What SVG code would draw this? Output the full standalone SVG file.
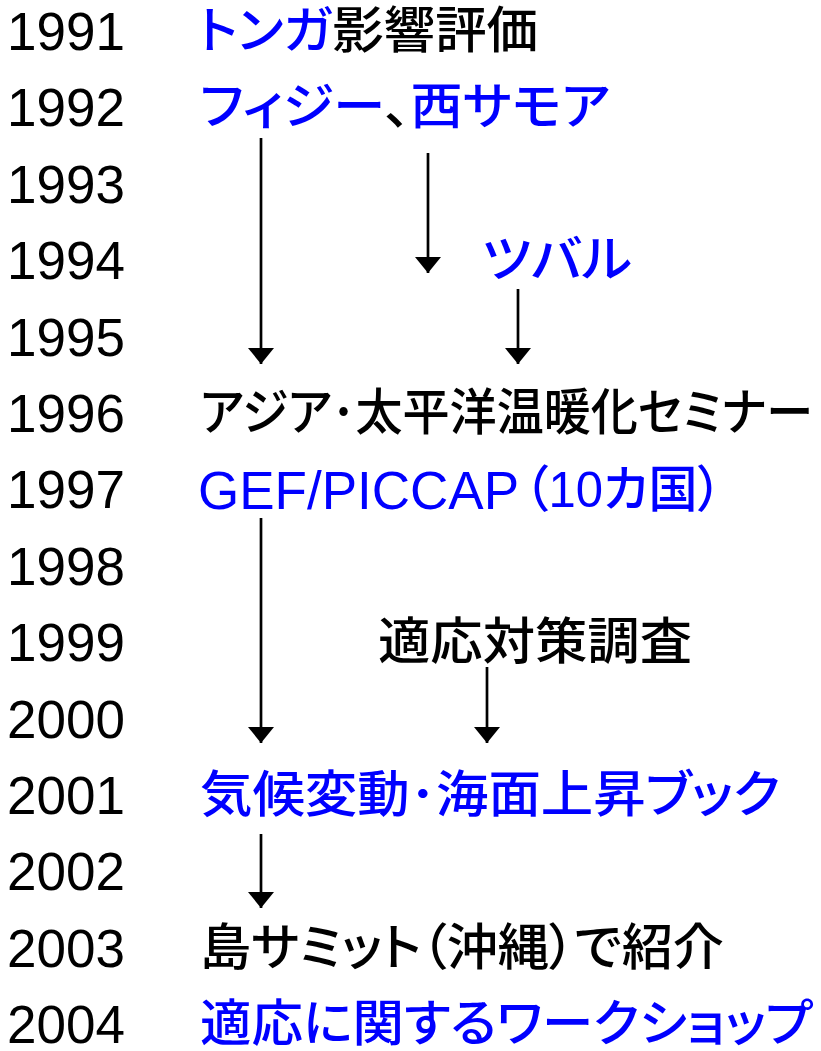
<svg xmlns="http://www.w3.org/2000/svg" width="821" height="1051" viewBox="0 0 821 1051">
<style>
.yr{font-family:"Liberation Sans",Arial,sans-serif;font-size:53px;fill:#000}
.t{font-family:"Liberation Sans","Noto Sans CJK JP",sans-serif;font-size:50px;font-weight:500;fill:#000;font-feature-settings:"palt"}
.lat{font-family:"Liberation Sans",Arial,sans-serif;font-size:53px;fill:#0000ff}
.b{fill:#0000ff}
.k{fill:#000}
.ln{stroke:#000;stroke-width:2.7;fill:none}
</style>
<defs>
<marker id="ah" markerWidth="16" markerHeight="26" refX="16" refY="13" orient="auto" markerUnits="userSpaceOnUse">
<path d="M0,0 L16,13 L0,26 Z" fill="#000"/>
</marker>
</defs>
<rect width="821" height="1051" fill="#fff"/>
<g id="years">
<text class="yr" x="7" y="50">1991</text>
<text class="yr" x="7" y="126">1992</text>
<text class="yr" x="7" y="203">1993</text>
<text class="yr" x="7" y="279">1994</text>
<text class="yr" x="7" y="356">1995</text>
<text class="yr" x="7" y="432">1996</text>
<text class="yr" x="7" y="508">1997</text>
<text class="yr" x="7" y="585">1998</text>
<text class="yr" x="7" y="661">1999</text>
<text class="yr" x="7" y="738">2000</text>
<text class="yr" x="7" y="814">2001</text>
<text class="yr" x="7" y="890">2002</text>
<text class="yr" x="7" y="967">2003</text>
<text class="yr" x="7" y="1043">2004</text>
</g>
<g id="n1991"><text class="t" x="198" y="48" textLength="340" lengthAdjust="spacingAndGlyphs"><tspan class="b">トンガ</tspan><tspan class="k">影響評価</tspan></text></g>
<g id="n1992"><text class="t" x="200" y="124" textLength="410" lengthAdjust="spacingAndGlyphs"><tspan class="b">フィジー</tspan><tspan class="k">、</tspan><tspan class="b">西サモア</tspan></text></g>
<g id="n1994"><text class="t b" x="482" y="277" textLength="150" lengthAdjust="spacingAndGlyphs">ツバル</text></g>
<g id="n1996"><text class="t" x="200" y="430" textLength="613" lengthAdjust="spacingAndGlyphs">アジア･太平洋温暖化セミナー</text></g>
<g id="n1997"><text class="lat" x="198" y="509">GEF/PICCAP</text><text class="t b" x="524" y="507" textLength="198" lengthAdjust="spacingAndGlyphs">（10カ国）</text></g>
<g id="n1999"><text class="t" x="378" y="659" textLength="314" lengthAdjust="spacingAndGlyphs">適応対策調査</text></g>
<g id="n2001"><text class="t b" x="200" y="812" textLength="580" lengthAdjust="spacingAndGlyphs">気候変動･海面上昇ブック</text></g>
<g id="n2003"><text class="t" x="200" y="965" textLength="524" lengthAdjust="spacingAndGlyphs">島サミット（沖縄）で紹介</text></g>
<g id="n2004"><text class="t b" x="200" y="1041" textLength="613" lengthAdjust="spacingAndGlyphs">適応に関するワークショップ</text></g>
<g id="connectors">
<line class="ln" x1="261" y1="138" x2="261" y2="364" marker-end="url(#ah)"/>
<line class="ln" x1="428" y1="153" x2="428" y2="273" marker-end="url(#ah)"/>
<line class="ln" x1="518" y1="289" x2="518" y2="364" marker-end="url(#ah)"/>
<line class="ln" x1="261" y1="518" x2="261" y2="743" marker-end="url(#ah)"/>
<line class="ln" x1="487" y1="667" x2="487" y2="743" marker-end="url(#ah)"/>
<line class="ln" x1="261" y1="834" x2="261" y2="908" marker-end="url(#ah)"/>
</g>
</svg>
